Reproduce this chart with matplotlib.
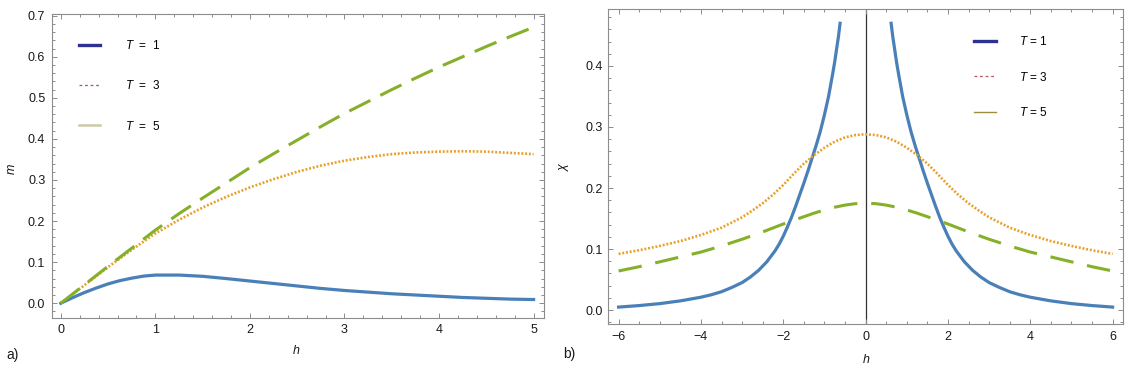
import matplotlib
matplotlib.use("Agg")
import matplotlib.pyplot as plt
from matplotlib.lines import Line2D
from matplotlib.ticker import MultipleLocator, FormatStrFormatter

# ---------------- data ----------------
h_m = [0, 0.125, 0.25, 0.375, 0.5, 0.625, 0.75, 0.875, 1.0, 1.25, 1.5, 1.75,
       2.0, 2.25, 2.5, 2.75, 3.0, 3.25, 3.5, 3.75, 4.0, 4.25, 4.5, 4.75, 5.0]
m_T1 = [0, 0.0135, 0.026, 0.037, 0.047, 0.055, 0.061, 0.066, 0.0685, 0.0685, 0.0655,
        0.060, 0.054, 0.048, 0.042, 0.036, 0.031, 0.027, 0.023, 0.020, 0.017,
        0.014, 0.012, 0.010, 0.009]
m_T3 = [0, 0.022, 0.044, 0.066, 0.088, 0.109, 0.130, 0.150, 0.170, 0.203, 0.233,
        0.259, 0.282, 0.302, 0.320, 0.335, 0.347, 0.356, 0.363, 0.367, 0.369,
        0.370, 0.369, 0.366, 0.363]
m_T5 = [0, 0.0225, 0.045, 0.0675, 0.090, 0.112, 0.134, 0.156, 0.178, 0.218, 0.256,
        0.293, 0.330, 0.364, 0.397, 0.430, 0.462, 0.491, 0.520, 0.548, 0.575,
        0.600, 0.625, 0.649, 0.672]

# chi(h) for h >= 0 (the curves are symmetric in h)
h_chi1 = [0.62, 0.66, 0.7, 0.75, 0.8, 0.9, 1.0, 1.1, 1.2, 1.3, 1.4, 1.5, 1.6, 1.7,
          1.8, 1.9, 2.0, 2.1, 2.2, 2.4, 2.6, 2.8, 3.0, 3.25, 3.5, 3.75, 4.0, 4.5,
          5.0, 5.5, 6.0]
chi_T1 = [0.470, 0.448, 0.430, 0.407, 0.387, 0.350, 0.320, 0.293, 0.270, 0.249,
          0.228, 0.208, 0.189, 0.170, 0.152, 0.136, 0.121, 0.108, 0.097, 0.079,
          0.065, 0.054, 0.045, 0.037, 0.030, 0.025, 0.021, 0.015, 0.0105, 0.0073,
          0.0048]
h_chi = [0, 0.25, 0.5, 0.75, 1.0, 1.25, 1.5, 1.75, 2.0, 2.25, 2.5, 2.75, 3.0,
         3.5, 4.0, 4.5, 5.0, 5.5, 6.0]
chi_T3 = [0.288, 0.2868, 0.283, 0.276, 0.266, 0.254, 0.240, 0.223, 0.205, 0.189,
          0.175, 0.163, 0.152, 0.135, 0.123, 0.113, 0.105, 0.098, 0.092]
chi_T5 = [0.175, 0.1743, 0.172, 0.1685, 0.164, 0.1588, 0.153, 0.147, 0.141, 0.1345,
          0.128, 0.122, 0.116, 0.105, 0.095, 0.087, 0.079, 0.071, 0.064]

labels_left = ["T  =  1", "T  =  3", "T  =  5"]
labels_right = ["T = 1", "T = 3", "T = 5"]

# ---------------- style ----------------
plt.rcParams["font.family"] = ["Liberation Sans", "DejaVu Sans"]
plt.rcParams["mathtext.fontset"] = "custom"
plt.rcParams["mathtext.it"] = "Liberation Sans:italic"
plt.rcParams["mathtext.rm"] = "Liberation Sans"
plt.rcParams["lines.scale_dashes"] = False

C_BLUE = "#4A80B8"
C_ORANGE = "#E8A02A"
C_GREEN = "#86B02A"
FRAME = "#8c8c8c"
FS = 9
LFS = 8.5

W, H = 1132, 373
fig = plt.figure(figsize=(W / 100, H / 100), dpi=100)


def px_axes(x0, y0, x1, y1):
    return fig.add_axes([x0 / W, 1 - y1 / H, (x1 - x0) / W, (y1 - y0) / H])


def style(ax):
    for s in ax.spines.values():
        s.set_color(FRAME)
        s.set_linewidth(0.8)
    ax.tick_params(which="both", direction="in", top=True, right=True,
                   color=FRAME, labelcolor="#1a1a1a", labelsize=FS, width=0.7)
    ax.tick_params(which="major", length=3.5)
    ax.tick_params(which="minor", length=2.0)


def mk(v, s):
    return [s * x for x in v]


# ---------------- left panel ----------------
ax1 = px_axes(52.3, 14.3, 544, 318)
ax1.plot(h_m, m_T1, color=C_BLUE, lw=2.3, solid_joinstyle="round")
ax1.plot(h_m, m_T3, color=C_ORANGE, lw=1.9, ls=(0, (1.4, 1.3)))
ax1.plot(h_m, m_T5, color=C_GREEN, lw=2.2, ls=(0, (17, 8)))
ax1.set_xlim(-0.09, 5.11)
ax1.set_ylim(-0.036, 0.7034)
ax1.xaxis.set_major_locator(MultipleLocator(1))
ax1.xaxis.set_minor_locator(MultipleLocator(0.2))
ax1.yaxis.set_major_locator(MultipleLocator(0.1))
ax1.yaxis.set_minor_locator(MultipleLocator(0.02))
ax1.yaxis.set_major_formatter(FormatStrFormatter("%.1f"))
style(ax1)
ax1.tick_params(axis="x", pad=4)
ax1.tick_params(axis="y", pad=5)

hl = [Line2D([], [], color="#2E3191", lw=2.4),
      Line2D([], [], color="#B8505E", lw=0.9, ls=(0, (2, 2))),
      Line2D([], [], color="#CFC9A5", lw=1.8)]
lab_l = [r"$T$" + s[1:] for s in labels_left]
ax1.legend(hl, lab_l, loc="center left", bbox_to_anchor=(0.054, 0.764),
           frameon=False, fontsize=LFS, borderpad=0, borderaxespad=0,
           handlelength=1.78, handletextpad=2.1, labelspacing=2.3)

# ---------------- right panel ----------------
ax2 = px_axes(608.3, 9, 1122.5, 324.3)
ax2.axvline(0, color="#333333", lw=0.9, zorder=1)
ax2.plot(h_chi1, chi_T1, color=C_BLUE, lw=2.3, solid_joinstyle="round")
ax2.plot(mk(h_chi1, -1), chi_T1, color=C_BLUE, lw=2.3, solid_joinstyle="round")
hh = mk(h_chi[::-1], -1) + h_chi[1:]
ax2.plot(hh, chi_T3[::-1] + chi_T3[1:], color=C_ORANGE, lw=1.9, ls=(0, (1.4, 1.3)))
ax2.plot(hh, chi_T5[::-1] + chi_T5[1:], color=C_GREEN, lw=2.2, ls=(0, (17, 10)))
ax2.set_xlim(-6.25, 6.24)
ax2.set_ylim(-0.0234, 0.4934)
ax2.xaxis.set_major_locator(MultipleLocator(2))
ax2.xaxis.set_minor_locator(MultipleLocator(0.5))
ax2.yaxis.set_major_locator(MultipleLocator(0.1))
ax2.yaxis.set_minor_locator(MultipleLocator(0.02))
ax2.yaxis.set_major_formatter(FormatStrFormatter("%.1f"))
style(ax2)
ax2.tick_params(axis="x", pad=5)
ax2.tick_params(axis="y", pad=4)

hr = [Line2D([], [], color="#2E3191", lw=2.4),
      Line2D([], [], color="#B8505E", lw=0.9, ls=(0, (2, 2))),
      Line2D([], [], color="#9C9040", lw=1.0)]
lab_r = [r"$T$" + s[1:] for s in labels_right]
ax2.legend(hr, lab_r, loc="center left", bbox_to_anchor=(0.711, 0.784),
           frameon=False, fontsize=LFS, borderpad=0, borderaxespad=0,
           handlelength=1.86, handletextpad=1.95, labelspacing=1.9)

# ---------------- labels ----------------
def ftxt(x, y, s, **kw):
    fig.text(x / W, 1 - y / H, s, ha="center", va="center", **kw)

ftxt(12, 169, "m", rotation=90, style="italic", fontsize=FS, color="#1a1a1a")
ftxt(296, 351, "h", style="italic", fontsize=FS, color="#1a1a1a")
ftxt(564, 168, "χ", rotation=90, style="italic", fontsize=FS, color="#1a1a1a")
ftxt(866, 360, "h", style="italic", fontsize=FS, color="#1a1a1a")
ftxt(13, 355, "a)", fontsize=10, color="#1a1a1a")
ftxt(569, 354, "b)", fontsize=10, color="#1a1a1a")

fig.savefig("out.png", dpi=100)
